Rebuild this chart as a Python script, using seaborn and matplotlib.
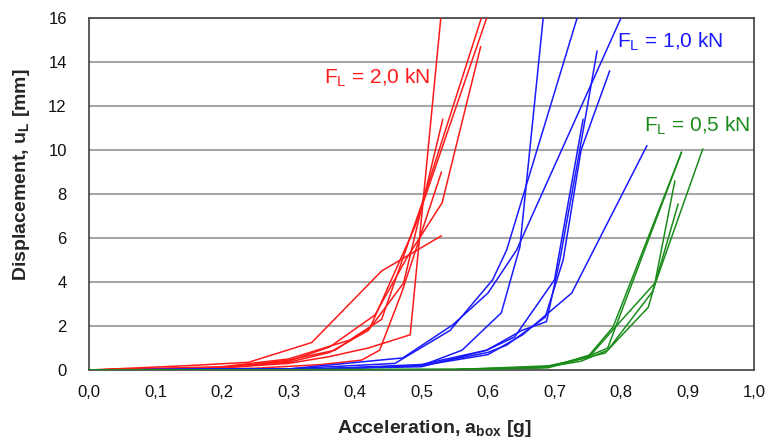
import matplotlib
matplotlib.use("Agg")
import matplotlib.pyplot as plt
import seaborn as sns
import pandas as pd

# ---- data ----
# F_L = 2,0 kN (red)
r1_x = [0.0, 0.15, 0.24, 0.335, 0.44, 0.53]
r1_y = [0.0, 0.20, 0.35, 1.25, 4.5, 6.1]
r2_x = [0.0, 0.20, 0.30, 0.36, 0.42, 0.483, 0.529]
r2_y = [0.0, 0.10, 0.30, 0.60, 1.0, 1.6, 16.0]
r3_x = [0.0, 0.20, 0.30, 0.362, 0.42, 0.473, 0.532]
r3_y = [0.0, 0.10, 0.35, 0.80, 1.8, 3.95, 11.4]
r4_x = [0.0, 0.20, 0.30, 0.362, 0.43, 0.478, 0.531, 0.589]
r4_y = [0.0, 0.10, 0.40, 1.05, 2.5, 5.1, 7.6, 14.7]
r5_x = [0.0, 0.20, 0.30, 0.37, 0.423, 0.49, 0.598]
r5_y = [0.0, 0.10, 0.45, 0.90, 1.95, 6.5, 16.0]
r6_x = [0.0, 0.20, 0.30, 0.392, 0.44, 0.50, 0.590]
r6_y = [0.0, 0.15, 0.50, 1.36, 2.3, 7.5, 16.0]
r7_x = [0.0, 0.25, 0.35, 0.41, 0.437, 0.47, 0.53]
r7_y = [0.0, 0.08, 0.25, 0.45, 0.90, 3.5, 9.0]

# F_L = 1,0 kN (blue)
b1_x = [0.0, 0.35, 0.50, 0.561, 0.62, 0.648, 0.683]
b1_y = [0.0, 0.05, 0.20, 0.90, 2.6, 5.6, 16.0]
b2_x = [0.0, 0.30, 0.472, 0.547, 0.60, 0.643, 0.80]
b2_y = [0.0, 0.05, 0.55, 2.05, 3.5, 5.45, 16.0]
b3_x = [0.0, 0.30, 0.46, 0.543, 0.607, 0.628, 0.734]
b3_y = [0.0, 0.05, 0.30, 1.80, 4.1, 5.45, 16.0]
b4_x = [0.0, 0.35, 0.50, 0.598, 0.651, 0.688, 0.708, 0.735, 0.764]
b4_y = [0.0, 0.05, 0.25, 0.90, 1.8, 2.2, 5.0, 9.5, 14.5]
b5_x = [0.0, 0.35, 0.50, 0.60, 0.628, 0.686, 0.713, 0.74, 0.783]
b5_y = [0.0, 0.05, 0.20, 0.80, 1.13, 2.4, 5.0, 10.0, 13.6]
b6_x = [0.0, 0.35, 0.50, 0.60, 0.652, 0.726, 0.839]
b6_y = [0.0, 0.05, 0.20, 0.70, 1.6, 3.5, 10.2]
b7_x = [0.0, 0.35, 0.50, 0.598, 0.64, 0.70, 0.743]
b7_y = [0.0, 0.05, 0.15, 0.90, 1.5, 4.1, 11.4]

# F_L = 0,5 kN (green)
g1_x = [0.0, 0.55, 0.68, 0.74, 0.776, 0.841, 0.886]
g1_y = [0.0, 0.02, 0.12, 0.50, 0.77, 2.85, 7.55]
g2_x = [0.0, 0.55, 0.68, 0.74, 0.78, 0.847, 0.923]
g2_y = [0.0, 0.02, 0.10, 0.40, 0.90, 3.55, 10.05]
g3_x = [0.0, 0.55, 0.69, 0.75, 0.788, 0.891]
g3_y = [0.0, 0.02, 0.15, 0.60, 1.95, 9.9]
g4_x = [0.0, 0.55, 0.70, 0.755, 0.79, 0.851, 0.881]
g4_y = [0.0, 0.02, 0.20, 0.70, 1.90, 3.95, 8.6]
g5_x = [0.0, 0.55, 0.69, 0.745, 0.78, 0.891]
g5_y = [0.0, 0.02, 0.10, 0.55, 1.00, 9.9]

series = {
    ("2,0", "r1"): (r1_x, r1_y), ("2,0", "r2"): (r2_x, r2_y),
    ("2,0", "r3"): (r3_x, r3_y), ("2,0", "r4"): (r4_x, r4_y),
    ("2,0", "r5"): (r5_x, r5_y), ("2,0", "r6"): (r6_x, r6_y),
    ("2,0", "r7"): (r7_x, r7_y),
    ("1,0", "b1"): (b1_x, b1_y), ("1,0", "b2"): (b2_x, b2_y),
    ("1,0", "b3"): (b3_x, b3_y), ("1,0", "b4"): (b4_x, b4_y),
    ("1,0", "b5"): (b5_x, b5_y), ("1,0", "b6"): (b6_x, b6_y),
    ("1,0", "b7"): (b7_x, b7_y),
    ("0,5", "g1"): (g1_x, g1_y), ("0,5", "g2"): (g2_x, g2_y),
    ("0,5", "g3"): (g3_x, g3_y), ("0,5", "g4"): (g4_x, g4_y),
    ("0,5", "g5"): (g5_x, g5_y),
}

x_ticks = [0.0, 0.1, 0.2, 0.3, 0.4, 0.5, 0.6, 0.7, 0.8, 0.9, 1.0]
x_tick_labels = ["0,0", "0,1", "0,2", "0,3", "0,4", "0,5", "0,6", "0,7", "0,8", "0,9", "1,0"]
y_ticks = [0, 2, 4, 6, 8, 10, 12, 14, 16]

rows = []
for (grp, cid), (xs, ys) in series.items():
    for i, (xv, yv) in enumerate(zip(xs, ys)):
        rows.append({"group": grp, "curve": cid, "order": i, "x": xv, "y": yv})
df = pd.DataFrame(rows)

palette = {"2,0": "#ff1a1a", "1,0": "#1a1aff", "0,5": "#1a8c1a"}

sns.set_theme(style="white")
plt.rcParams["font.family"] = ["Liberation Sans", "DejaVu Sans"]

fig = plt.figure(figsize=(7.68, 4.41), dpi=100)
ax = fig.add_axes([89 / 768, 1 - 370 / 441, (754 - 89) / 768, (370 - 18) / 441])

for yv in y_ticks[1:]:
    ax.axhline(yv, color="#a6a6a6", lw=1.5, zorder=0)

sns.lineplot(data=df, x="x", y="y", hue="group", units="curve", estimator=None,
             sort=False, palette=palette, lw=1.1, legend=False, ax=ax, zorder=3)

ax.set_xlim(0, 1.0)
ax.set_ylim(0, 16)
ax.set_xticks(x_ticks)
ax.set_xticklabels(x_tick_labels)
ax.set_yticks(y_ticks)
ax.tick_params(axis="both", which="major", direction="out", length=4, width=1,
               color="#555555", labelsize=12, labelcolor="#111111")
ax.tick_params(axis="x", pad=7)
ax.tick_params(axis="y", pad=12)
for sp in ax.spines.values():
    sp.set_color("#404040")
    sp.set_linewidth(1.2)

ax.set_xlabel("Acceleration, a$_{\\mathregular{box}}$ [g]", fontsize=14,
              fontweight="bold")
ax.set_ylabel("Displacement, u$_{\\mathregular{L}}$ [mm]", fontsize=14,
              fontweight="bold")
ax.xaxis.set_label_coords(0.52, -0.135)
ax.yaxis.set_label_coords(-0.086, 0.554)

ax.text(0.433, 13.3, "F$_{\\mathregular{L}}$ = 2,0 kN", color="#ff1a1a", fontsize=15,
        ha="center", va="center")
ax.text(0.874, 14.9, "F$_{\\mathregular{L}}$ = 1,0 kN", color="#1a1aff", fontsize=15,
        ha="center", va="center")
ax.text(0.914, 11.1, "F$_{\\mathregular{L}}$ = 0,5 kN", color="#1a8c1a", fontsize=15,
        ha="center", va="center")

fig.savefig("out.png", dpi=100)
